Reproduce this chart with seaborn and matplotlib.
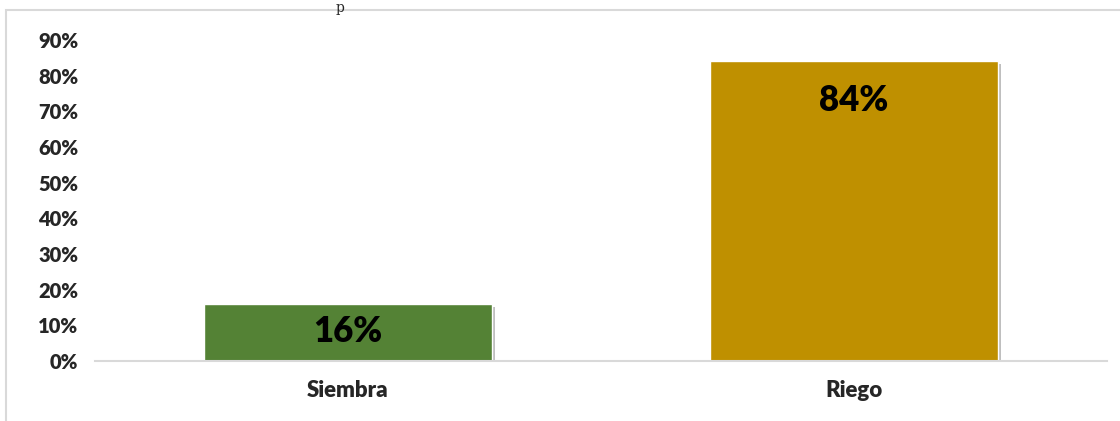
import matplotlib
matplotlib.use("Agg")
import matplotlib.pyplot as plt
import matplotlib.patheffects as pe
from matplotlib.patches import Rectangle
from matplotlib.ticker import PercentFormatter, MultipleLocator
import seaborn as sns
import pandas as pd

# 데이터
categorias = ["Siembra", "Riego"]
valores = [0.16, 0.84]
colores = ["#548235", "#bf9000"]

df = pd.DataFrame({"actividad": categorias, "porcentaje": valores})

sns.set_style("white")
plt.rcParams["font.family"] = ["Lato", "DejaVu Sans"]

fig = plt.figure(figsize=(11.2, 4.21), dpi=100)
ax = fig.add_axes([0.0848, 0.1425, 0.9032, 0.7625])

sns.barplot(data=df, x="actividad", y="porcentaje", hue="actividad",
            palette=colores, width=0.57, legend=False, ax=ax,
            saturation=1)

# 그림자 효과
for p in ax.patches:
    p.set_path_effects([pe.SimplePatchShadow(offset=(2, -2), shadow_rgbFace="#000000",
                                             alpha=0.25), pe.Normal()])

ax.set_ylim(0, 0.9)
ax.yaxis.set_major_locator(MultipleLocator(0.1))
ax.yaxis.set_major_formatter(PercentFormatter(1.0, decimals=0))
ax.set_xlabel("")
ax.set_ylabel("")
for s in ["top", "right", "left"]:
    ax.spines[s].set_visible(False)
ax.spines["bottom"].set_color("#d9d9d9")
ax.spines["bottom"].set_linewidth(1.5)
ax.tick_params(axis="y", length=0, pad=12, labelsize=14.5)
ax.tick_params(axis="x", length=0, pad=14, labelsize=16)
for lab in ax.get_yticklabels() + ax.get_xticklabels():
    lab.set_fontweight("heavy")

# 막대 값 라벨 (막대 안쪽 끝)
desplaz = [-8, -16]
for p, v, d in zip(ax.patches, valores, desplaz):
    ax.annotate(f"{v:.0%}", (p.get_x() + p.get_width() / 2, p.get_height()),
                xytext=(0, d), textcoords="offset points", ha="center", va="top",
                fontsize=25, fontweight="heavy", color="#000000")

# 외곽 테두리
fig.patches.append(Rectangle((6 / 1120, -0.05), 1.2, 1 - 10 / 421 + 0.05,
                             transform=fig.transFigure, fill=False,
                             edgecolor="#d9d9d9", linewidth=1.5))
fig.text(340 / 1120, 1 - 1 / 421, "p", family="DejaVu Serif", fontsize=10,
         ha="center", va="top")

fig.savefig("out.png", dpi=100)
